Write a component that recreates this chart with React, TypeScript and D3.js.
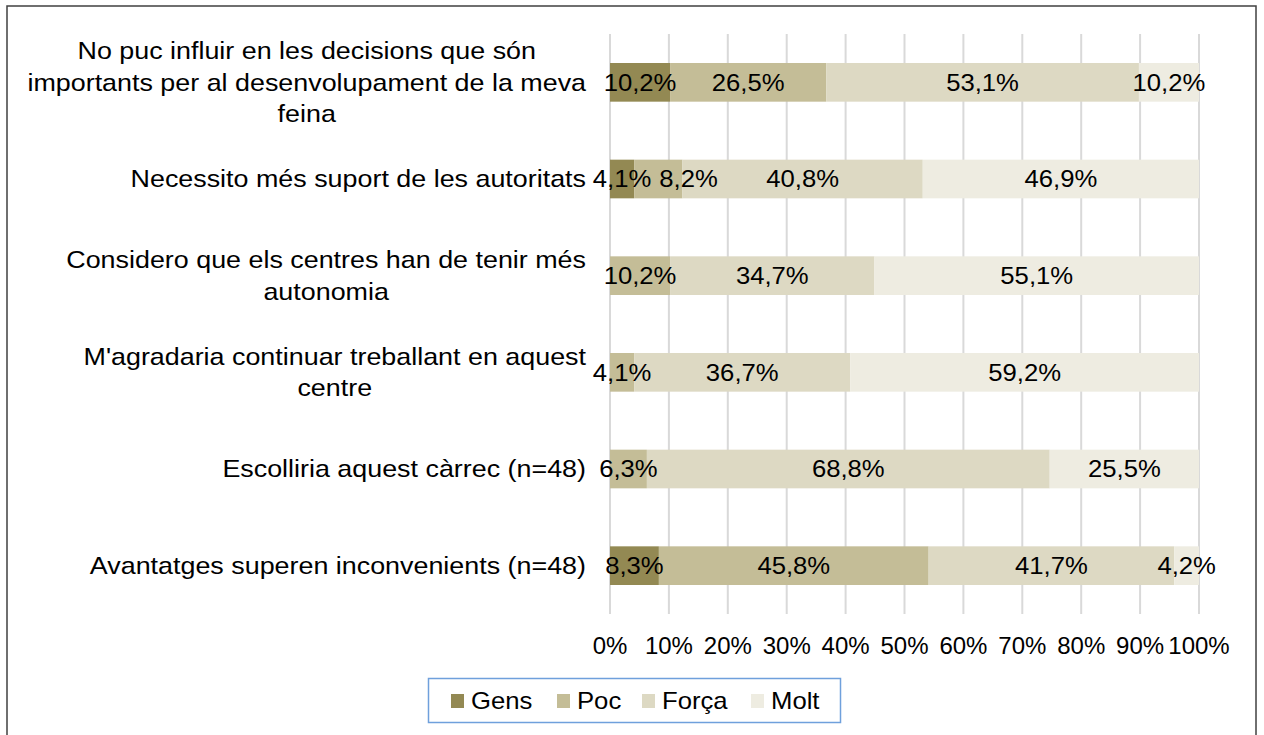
import React, { useRef, useEffect } from 'react';
import * as d3 from 'd3';

const categories = [
  ['No puc influir en les decisions que són', 'importants per al desenvolupament de la meva', 'feina'],
  ['Necessito més suport de les autoritats'],
  ['Considero que els centres han de tenir més', 'autonomia'],
  ["M'agradaria continuar treballant en aquest", 'centre'],
  ['Escolliria aquest càrrec (n=48)'],
  ['Avantatges superen inconvenients (n=48)'],
];
const seriesNames = ['Gens', 'Poc', 'Força', 'Molt'];
const gens = [10.2, 4.1, 0, 0, 0, 8.3];
const poc = [26.5, 8.2, 10.2, 4.1, 6.3, 45.8];
const forca = [53.1, 40.8, 34.7, 36.7, 68.8, 41.7];
const molt = [10.2, 46.9, 55.1, 59.2, 25.5, 4.2];
const colors = ['#938953', '#c4bd97', '#ddd9c3', '#eeece1'];
const ticks = [0, 0.1, 0.2, 0.3, 0.4, 0.5, 0.6, 0.7, 0.8, 0.9, 1];

const FONT = '"Liberation Sans", Arial, sans-serif';

// text placed via transform so it can be stretched a little horizontally
const addText = (g, x, y, str, anchor, sx) =>
  g.append('text')
    .attr('transform', `translate(${x},${y}) scale(${sx},1)`)
    .attr('dy', '0.35em')
    .attr('text-anchor', anchor)
    .style('font-family', FONT)
    .style('font-size', '24px')
    .attr('fill', '#000')
    .text(str);

const App = () => {
  const ref = useRef(null);

  useEffect(() => {
    const width = 1264;
    const height = 735;
    const svg = d3.select(ref.current);
    svg.selectAll('*').remove();
    svg.attr('width', width).attr('height', height);

    // outer chart border
    svg.append('rect')
      .attr('x', 7).attr('y', 6)
      .attr('width', 1249).attr('height', 740)
      .attr('fill', '#fff')
      .attr('stroke', '#404040')
      .attr('stroke-width', 1.5);

    const rows = categories.map((c, i) => ({
      key: i,
      Gens: gens[i], Poc: poc[i], 'Força': forca[i], Molt: molt[i],
    }));

    const x = d3.scaleLinear().domain([0, 1]).range([610, 1199]);
    const y = d3.scaleBand()
      .domain(rows.map(d => d.key))
      .range([34, 614])
      .paddingInner(0.6)
      .paddingOuter(0.3);

    const stacked = d3.stack()
      .keys(seriesNames)
      .offset(d3.stackOffsetExpand)(rows);

    // gridlines
    svg.append('g')
      .selectAll('line')
      .data(ticks)
      .enter().append('line')
      .attr('x1', d => x(d)).attr('x2', d => x(d))
      .attr('y1', 34).attr('y2', 614)
      .attr('stroke', '#d9d9d9')
      .attr('stroke-width', 2);

    // bars
    svg.append('g')
      .selectAll('g')
      .data(stacked)
      .enter().append('g')
      .attr('fill', (d, i) => colors[i])
      .selectAll('rect')
      .data(d => d)
      .enter().append('rect')
      .attr('x', d => x(d[0]))
      .attr('width', d => Math.max(0, x(d[1]) - x(d[0])))
      .attr('y', d => y(d.data.key))
      .attr('height', y.bandwidth());

    // data labels, nudged right when they would collide with the previous one
    const fmt = v => v.toFixed(1).replace('.', ',') + '%';
    const labels = svg.append('g');
    const sxLab = 1.07;
    rows.forEach((r, i) => {
      let lastRight = -Infinity;
      stacked.forEach(s => {
        const d = s[i];
        if (!(r[s.key] > 0)) return;
        let cx = (x(d[0]) + x(d[1])) / 2;
        const cy = y(r.key) + y.bandwidth() / 2;
        const t = addText(labels, cx, cy, fmt(r[s.key]), 'middle', sxLab);
        const w = t.node().getComputedTextLength() * sxLab;
        if (cx - w / 2 < lastRight + 8) {
          cx = lastRight + 8 + w / 2;
          t.attr('transform', `translate(${cx},${cy}) scale(${sxLab},1)`);
        }
        lastRight = cx + w / 2;
      });
    });

    // category labels (wrapped, centred within block, block right-aligned)
    const lineH = 31.5;
    const sxCat = 1.12;
    categories.forEach((lines, i) => {
      const g = svg.append('g');
      const cy = y(i) + y.bandwidth() / 2;
      const texts = lines.map((l, j) => ({
        node: addText(g, 0, 0, l, 'middle', sxCat),
        yy: cy + (j - (lines.length - 1) / 2) * lineH,
      }));
      let maxW = 0;
      texts.forEach(t => { maxW = Math.max(maxW, t.node.node().getComputedTextLength() * sxCat); });
      const cx = 586 - maxW / 2;
      texts.forEach(t => t.node.attr('transform', `translate(${cx},${t.yy}) scale(${sxCat},1)`));
    });

    // x axis tick labels
    const axisG = svg.append('g');
    ticks.forEach(t => addText(axisG, x(t), 646, d3.format('.0%')(t), 'middle', 1));

    // legend
    const legend = svg.append('g');
    legend.append('rect')
      .attr('x', 428.5).attr('y', 678.5)
      .attr('width', 412).attr('height', 44)
      .attr('fill', '#fff')
      .attr('stroke', '#6fa0dc')
      .attr('stroke-width', 1.5);
    const legendX = [451, 557, 642, 751];
    seriesNames.forEach((name, i) => {
      legend.append('rect')
        .attr('x', legendX[i]).attr('y', 694)
        .attr('width', 13).attr('height', 14)
        .attr('fill', colors[i]);
      addText(legend, legendX[i] + 20, 701, name, 'start', 1.07);
    });
  }, []);

  return (
    <svg ref={ref} style={{ position: 'absolute', left: 0, top: 0, background: '#fff' }}></svg>
  );
};

export default App;
